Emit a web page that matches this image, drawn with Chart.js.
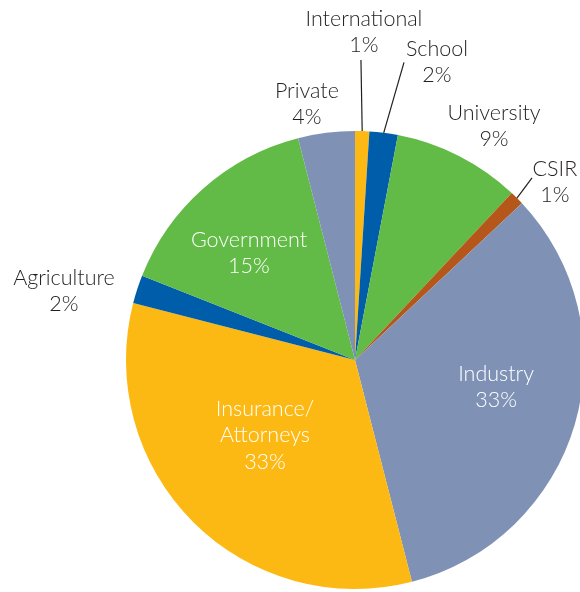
<!DOCTYPE html>
<html>
<head>
<meta charset="utf-8">
<script src="https://cdn.jsdelivr.net/npm/chart.js@4/dist/chart.umd.min.js"></script>
<style>
html,body{margin:0;padding:0;background:#fff;overflow:hidden;width:580px;height:592px;}
#wrap{position:relative;width:600px;height:592px;}
</style>
</head>
<body>
<div id="wrap"><canvas id="c" width="600" height="592"></canvas></div>
<script>
const categories = ["International","School","University","CSIR","Industry","Insurance/\nAttorneys","Agriculture","Government","Private"];
const shares = [1, 2, 9, 1, 33, 33, 2, 15, 4];
const colors = ["#FDB913","#005DAA","#62BB46","#B5561A","#7F92B5","#FDB913","#005DAA","#62BB46","#7F92B5"];

// label placement (offsets from pie centre in units of radius), inside flag, leader-line start
const placement = [
  {dx:0.039, dy:-1.432, inside:false, leader:{dx:0.026, dy:-1.31}},
  {dx:0.358, dy:-1.301, inside:false, leader:{dx:0.214, dy:-1.30}},
  {dx:0.607, dy:-1.022, inside:false},
  {dx:0.873, dy:-0.777, inside:false, leader:{dx:0.773, dy:-0.795}},
  {dx:0.616, dy:0.118, inside:true},
  {dx:-0.393, dy:0.328, inside:true},
  {dx:-1.271, dy:-0.301, inside:false},
  {dx:-0.463, dy:-0.467, inside:true},
  {dx:-0.210, dy:-1.118, inside:false}
];

const labelPlugin = {
  id: 'pieLabels',
  afterDatasetsDraw(chart) {
    const ctx = chart.ctx;
    const meta = chart.getDatasetMeta(0);
    const ds = chart.data.datasets[0];
    const total = ds.data.reduce((a,b)=>a+b,0);
    ctx.save();
    ctx.font = '300 21.5px "Lato", "Open Sans", sans-serif';
    ctx.textAlign = 'center';
    ctx.textBaseline = 'middle';
    meta.data.forEach((arc, i) => {
      const p = arc.getProps(['x','y','startAngle','endAngle','outerRadius'], true);
      const r = p.outerRadius;
      const pl = placement[i];
      const cx = p.x + pl.dx * r;
      const cy = p.y + pl.dy * r;
      const lines = chart.data.labels[i].split('\n');
      lines.push(Math.round(ds.data[i] / total * 100) + '%');
      const lh = 26.5;
      const y0 = cy - (lines.length - 1) * lh / 2;
      ctx.fillStyle = pl.inside ? '#ffffff' : '#231F20';
      lines.forEach((t, k) => ctx.fillText(t, cx, y0 + k * lh));
      if (pl.leader) {
        const mid = (p.startAngle + p.endAngle) / 2;
        const ex = p.x + Math.cos(mid) * r;
        const ey = p.y + Math.sin(mid) * r;
        ctx.strokeStyle = '#231F20';
        ctx.lineWidth = 1.2;
        ctx.beginPath();
        ctx.moveTo(p.x + pl.leader.dx * r, p.y + pl.leader.dy * r);
        ctx.lineTo(ex, ey);
        ctx.stroke();
      }
    });
    ctx.restore();
  }
};

new Chart(document.getElementById('c'), {
  type: 'pie',
  data: {
    labels: categories,
    datasets: [{
      data: shares,
      backgroundColor: colors,
      borderWidth: 0
    }]
  },
  options: {
    responsive: false,
    animation: false,
    rotation: 0,
    layout: { padding: { left: 126, right: 16, top: 131, bottom: 3 } },
    plugins: { legend: { display: false }, tooltip: { enabled: false } }
  },
  plugins: [labelPlugin]
});
</script>
</body>
</html>
